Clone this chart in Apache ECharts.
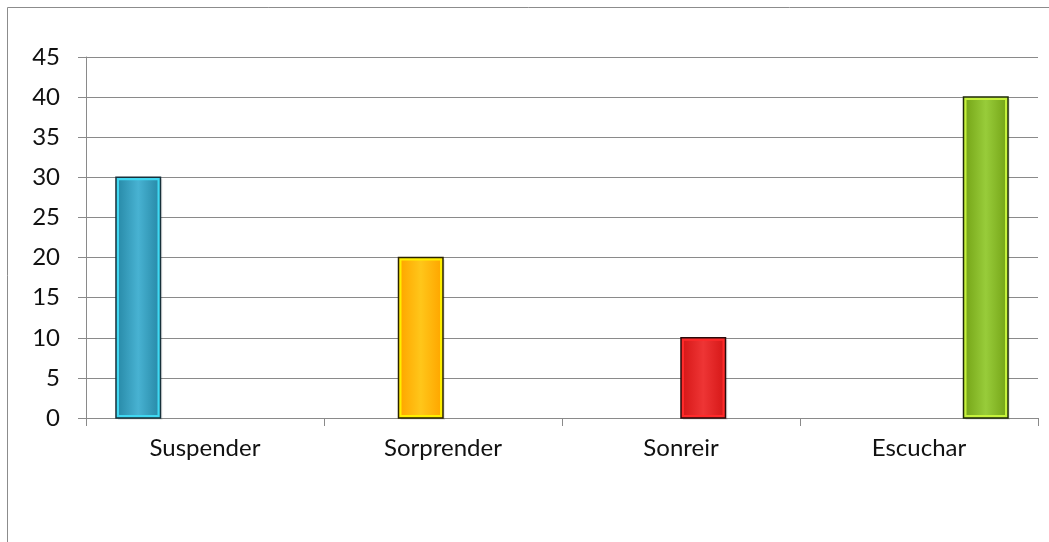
<!DOCTYPE html>
<html>
<head>
<meta charset="utf-8">
<script src="https://cdn.jsdelivr.net/npm/echarts@6/dist/echarts.min.js"></script>
<style>
  html, body { margin: 0; padding: 0; background: #ffffff; }
  #chart { width: 1049px; height: 542px; }
</style>
</head>
<body>
<div id="chart"></div>
<script>
// Categories and one value per verb (each verb is its own series in the cluster)
const categories = ['Suspender', 'Sorprender', 'Sonreir', 'Escuchar'];
const suspender  = [30, null, null, null];
const sorprender = [null, 20, null, null];
const sonreir    = [null, null, 10, null];
const escuchar   = [null, null, null, 40];
const yTicks = [0, 5, 10, 15, 20, 25, 30, 35, 40, 45];

// Bevelled bar palettes: [outline, bright edge, fill edge, fill centre]
const palettes = [
  ['#17303a', '#3fd8f2', '#2a8dab', '#48b2d2'],
  ['#2a2200', '#ffef00', '#ffa800', '#ffc61a'],
  ['#2a0a0a', '#ff2a2a', '#d81a1a', '#ee3535'],
  ['#1e2a08', '#c6f23c', '#78a81a', '#98cc3a']
];
const seriesData = [suspender, sorprender, sonreir, escuchar];
const seriesNames = ['Suspender', 'Sorprender', 'Sonreir', 'Escuchar'];
const SLOTS = seriesData.length;
const BAR_RATIO = 0.187; // bar width relative to one category band

function makeRender(slot, pal) {
  return function (params, api) {
    const v = api.value(1);
    if (v == null || isNaN(v)) return null;
    const idx = api.value(0);
    const top = api.coord([idx, v]);
    const base = api.coord([idx, 0]);
    const band = api.size([1, 0])[0];
    const bw = band * BAR_RATIO;
    const gap = band - SLOTS * bw;
    const x0 = top[0] - band / 2 + gap / 2 + slot * bw;
    const y0 = top[1];
    const h = base[1] - top[1];
    const inset = 3;
    return {
      type: 'group',
      children: [
        {
          type: 'rect',
          shape: { x: x0 + 2, y: y0 + 2, width: bw, height: h },
          style: { fill: 'rgba(0,0,0,0.08)' }
        },
        {
          type: 'rect',
          shape: { x: x0, y: y0, width: bw, height: h },
          style: { fill: pal[1], stroke: pal[0], lineWidth: 1.5 }
        },
        {
          type: 'rect',
          shape: { x: x0 + inset, y: y0 + inset, width: bw - 2 * inset, height: h - 2 * inset },
          style: {
            fill: new echarts.graphic.LinearGradient(0, 0, 1, 0, [
              { offset: 0, color: pal[2] },
              { offset: 0.5, color: pal[3] },
              { offset: 1, color: pal[2] }
            ])
          }
        }
      ]
    };
  };
}

const series = seriesData.map((arr, s) => ({
  name: seriesNames[s],
  type: 'custom',
  renderItem: makeRender(s, palettes[s]),
  encode: { x: 0, y: 1 },
  data: arr.map((v, i) => [i, v]),
  z: 3
}));

const chart = echarts.init(document.getElementById('chart'), null, { renderer: 'canvas' });
chart.setOption({
  animation: false,
  backgroundColor: '#ffffff',
  textStyle: { fontFamily: 'Lato, "Open Sans", sans-serif' },
  graphic: [{
    type: 'rect',
    shape: { x: 7.5, y: 7.5, width: 1100, height: 600 },
    style: { fill: 'none', stroke: '#8c8c8c', lineWidth: 1 },
    silent: true
  }],
  grid: { left: 86, right: 11, top: 57, bottom: 124, containLabel: false },
  xAxis: {
    type: 'category',
    data: categories,
    boundaryGap: true,
    axisLine: { show: true, lineStyle: { color: '#8a8a8a', width: 1 } },
    axisTick: { show: true, length: 8, inside: false, lineStyle: { color: '#8a8a8a' } },
    axisLabel: { color: '#111111', fontSize: 24, margin: 18, fontFamily: 'Lato, sans-serif' },
    splitLine: { show: false }
  },
  yAxis: {
    type: 'value',
    min: yTicks[0],
    max: yTicks[yTicks.length - 1],
    interval: yTicks[1] - yTicks[0],
    axisLine: { show: true, lineStyle: { color: '#8a8a8a', width: 1 } },
    axisTick: { show: true, length: 8, lineStyle: { color: '#8a8a8a' } },
    axisLabel: { color: '#111111', fontSize: 24, margin: 26, fontFamily: 'Lato, sans-serif' },
    splitLine: { show: true, lineStyle: { color: '#8a8a8a', width: 1 } }
  },
  series: series
});
</script>
</body>
</html>
